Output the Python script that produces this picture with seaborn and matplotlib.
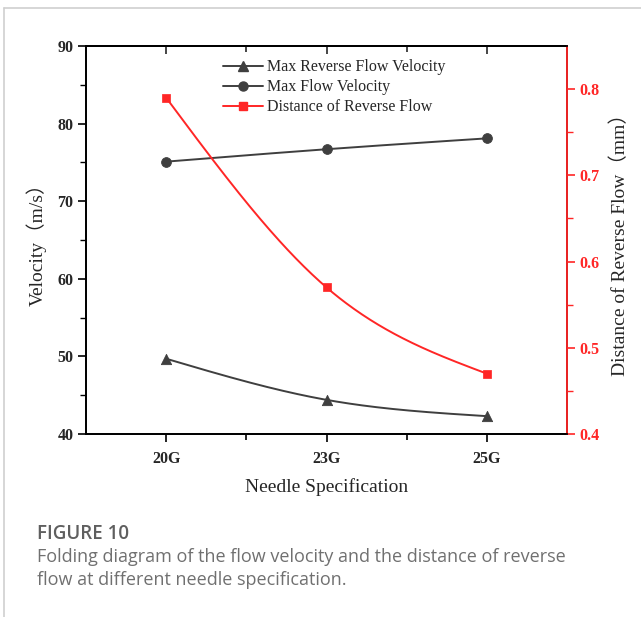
import numpy as np
import pandas as pd
import seaborn as sns
import matplotlib.pyplot as plt
from matplotlib.lines import Line2D
from matplotlib.ticker import MultipleLocator, FixedLocator

# ---- data ----
needles = ["20G", "23G", "25G"]
max_reverse_velocity = [49.7, 44.4, 42.3]
max_flow_velocity = [75.1, 76.7, 78.1]
reverse_distance = [0.79, 0.57, 0.47]

sns.set_theme(style="white")
plt.rcParams['font.family'] = ['Liberation Serif', 'Noto Sans CJK SC', 'DejaVu Sans']
plt.rcParams['axes.unicode_minus'] = False

GRAY = "#3f3f3f"
RED = "#ff2626"


def natural_spline(y, n=100):
    """Natural cubic spline through equally spaced points (x = 0..len-1)."""
    y = np.asarray(y, float)
    k = len(y)
    A = np.zeros((k, k)); b = np.zeros(k)
    A[0, 0] = A[-1, -1] = 1
    for i in range(1, k - 1):
        A[i, i - 1], A[i, i], A[i, i + 1] = 1, 4, 1
        b[i] = 6 * (y[i - 1] - 2 * y[i] + y[i + 1])
    M = np.linalg.solve(A, b)
    xs, ys = [], []
    for i in range(k - 1):
        t = np.linspace(i, i + 1, n)
        a = (i + 1 - t); c = (t - i)
        s = M[i] * a**3 / 6 + M[i + 1] * c**3 / 6 + (y[i] - M[i] / 6) * a + (y[i + 1] - M[i + 1] / 6) * c
        xs.append(t); ys.append(s)
    return np.concatenate(xs), np.concatenate(ys)


fig = plt.figure(figsize=(6.41, 6.17), dpi=100)
ax = fig.add_axes([0.1342, 0.2966, 0.7504, 0.6288])
ax2 = ax.twinx()

xpos = np.arange(len(needles))

for vals, axis, color in [(max_reverse_velocity, ax, GRAY), (max_flow_velocity, ax, GRAY),
                          (reverse_distance, ax2, RED)]:
    sx, sy = natural_spline(vals)
    sns.lineplot(x=sx, y=sy, ax=axis, color=color, lw=1.4, sort=False, legend=False)

df = pd.DataFrame({"x": xpos, "rev": max_reverse_velocity, "flow": max_flow_velocity,
                   "dist": reverse_distance})
sns.scatterplot(data=df, x="x", y="rev", ax=ax, marker="^", s=55, color=GRAY, edgecolor=GRAY, zorder=5, legend=False)
sns.scatterplot(data=df, x="x", y="flow", ax=ax, marker="o", s=50, color=GRAY, edgecolor=GRAY, zorder=5, legend=False)
sns.scatterplot(data=df, x="x", y="dist", ax=ax2, marker="s", s=40, color=RED, edgecolor=RED, zorder=5, legend=False)

ax.set_xlim(-0.5, 2.5)
ax.set_ylim(40, 90)
ax2.set_ylim(0.4, 0.85)

ax.set_xticks(xpos)
ax.set_xticklabels(needles)
ax.xaxis.set_minor_locator(FixedLocator([0.5, 1.5]))
ax.yaxis.set_major_locator(MultipleLocator(10))
ax.yaxis.set_minor_locator(MultipleLocator(5))
ax2.yaxis.set_major_locator(FixedLocator([0.4, 0.5, 0.6, 0.7, 0.8]))
ax2.yaxis.set_minor_locator(FixedLocator([0.45, 0.55, 0.65, 0.75]))

for a in (ax, ax2):
    for s in a.spines.values():
        s.set_linewidth(1.3)
        s.set_color("black")
    a.set_xlabel("")
    a.set_ylabel("")
    a.grid(False)
ax2.spines["right"].set_color(RED)

ax.tick_params(axis="x", which="both", bottom=True, top=False, direction="out",
               length=6, width=1.2, color="black", labelsize=11.5, pad=6)
ax.tick_params(axis="x", which="minor", length=4)
ax.tick_params(axis="y", which="major", left=True, direction="out", length=6, width=1.2,
               color="black", labelsize=11.5, pad=3)
ax.tick_params(axis="y", which="minor", left=True, direction="out", length=4, width=1.0, color="black")
ax2.tick_params(axis="y", which="major", right=True, direction="out", length=6, width=1.2,
                color=RED, labelcolor=RED, labelsize=11.5, pad=3)
ax2.tick_params(axis="y", which="minor", right=True, direction="out", length=4, width=1.0, color=RED)

top = ax.secondary_xaxis("top")
top.set_xticks(list(xpos))
top.xaxis.set_minor_locator(FixedLocator([0.5, 1.5]))
top.tick_params(axis="x", which="both", direction="in", length=6, width=1.2, labeltop=False)
top.tick_params(axis="x", which="minor", length=4)
top.spines["top"].set_linewidth(1.3)
top.set_xticklabels([])

for lab in ax.get_xticklabels() + ax.get_yticklabels() + ax2.get_yticklabels():
    lab.set_fontweight("bold")

ax.set_xlabel("Needle Specification", fontsize=14, labelpad=8)
ax.set_ylabel("Velocity（m/s）", fontsize=14, labelpad=8)
ax2.set_ylabel("Distance of Reverse Flow（mm）", fontsize=14, labelpad=8)

handles = [
    Line2D([], [], color=GRAY, marker="^", markersize=7, lw=1.4),
    Line2D([], [], color=GRAY, marker="o", markersize=6.5, lw=1.4),
    Line2D([], [], color=RED, marker="s", markersize=6, lw=1.4),
]
labels = ["Max Reverse Flow Velocity", "Max Flow Velocity", "Distance of Reverse Flow"]
ax.legend(handles, labels, loc="upper left", bbox_to_anchor=(0.265, 0.99), frameon=False,
          fontsize=11.5, handlelength=2.5, handletextpad=0.25, labelspacing=0.25, borderaxespad=0.2)

# page frame
fig.add_artist(Line2D([4 / 641, 1.0], [1 - 8 / 617, 1 - 8 / 617], transform=fig.transFigure,
                      color="#cfcfcf", lw=1.2))
fig.add_artist(Line2D([4 / 641, 4 / 641], [0, 1 - 8 / 617], transform=fig.transFigure,
                      color="#cfcfcf", lw=1.2))

# caption
cap_font = ["Open Sans", "DejaVu Sans"]
fig.text(37 / 641, 1 - 539 / 617, "FIGURE 10", fontsize=13.5, color="#5f5f5f",
         family=cap_font, fontweight="semibold", va="baseline", ha="left")
fig.text(37 / 641, 1 - 562 / 617, "Folding diagram of the flow velocity and the distance of reverse",
         fontsize=13, color="#707070", family=cap_font, va="baseline", ha="left")
fig.text(37 / 641, 1 - 585 / 617, "flow at different needle specification.",
         fontsize=13, color="#707070", family=cap_font, va="baseline", ha="left")

fig.savefig("out.png", dpi=100, facecolor="white")
